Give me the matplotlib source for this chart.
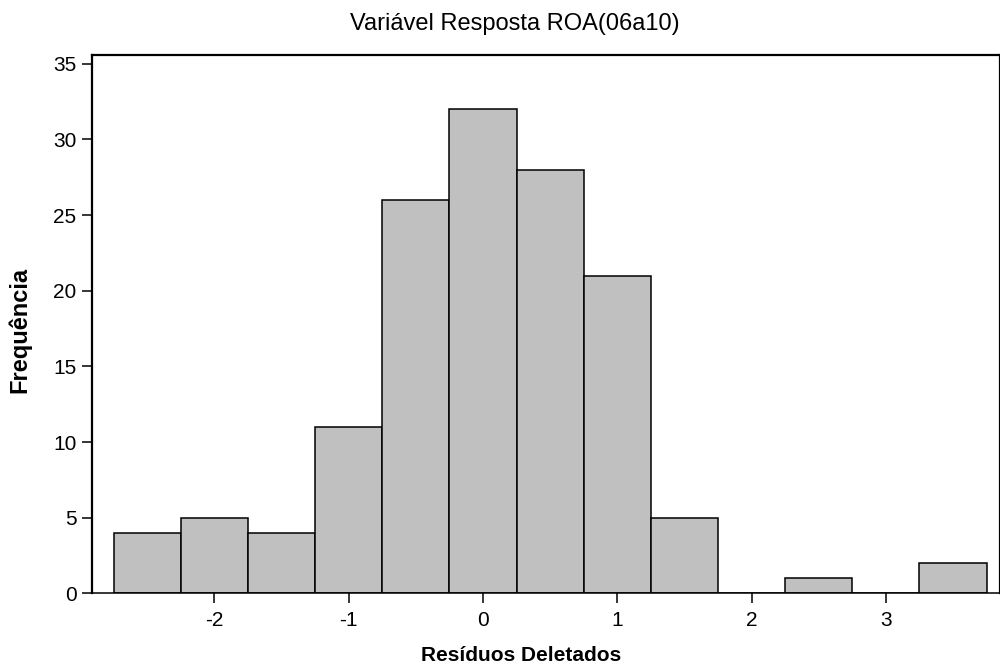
import matplotlib
matplotlib.use("Agg")
import matplotlib.pyplot as plt
import numpy as np

bin_centers = [-2.5, -2.0, -1.5, -1.0, -0.5, 0.0, 0.5, 1.0, 1.5, 2.0, 2.5, 3.0, 3.5]
counts = [4, 5, 4, 11, 26, 32, 28, 21, 5, 0, 1, 0, 2]
bin_width = 0.5
x_ticks = [-2, -1, 0, 1, 2, 3]
y_ticks = [0, 5, 10, 15, 20, 25, 30, 35]

plt.rcParams['font.family'] = ['Liberation Sans', 'DejaVu Sans']

fig = plt.figure(figsize=(10, 6.66), dpi=100)
ax = fig.add_axes([0.0917, 0.109, 0.9083, 0.809])
ax.bar(bin_centers, counts, width=bin_width, color='#C0C0C0', edgecolor='black', linewidth=1.1)
ax.set_xlim(-2.914, 3.85)
ax.set_ylim(0, 35.6)
ax.set_xticks(x_ticks)
ax.set_xticklabels([str(t) for t in x_ticks])
ax.set_yticks(y_ticks)
ax.tick_params(direction='out', length=7, width=1.1, labelsize=15)
ax.tick_params(axis='x', pad=6)
ax.tick_params(axis='y', pad=4)
for s in ax.spines.values():
    s.set_linewidth(1.6)
ax.spines['bottom'].set_linewidth(1.1)
ax.set_xlabel('Resíduos Deletados', fontsize=15, fontweight='bold', va='baseline')
ax.xaxis.set_label_coords(0.473, -0.1257)
ax.set_ylabel('Frequência', fontsize=17, fontweight='bold', va='center')
ax.yaxis.set_label_coords(-0.0789, 0.489)
fig.text(0.515, 0.955, 'Variável Resposta ROA(06a10)', fontsize=17, ha='center', va='baseline')
fig.savefig('out.png', dpi=100)
